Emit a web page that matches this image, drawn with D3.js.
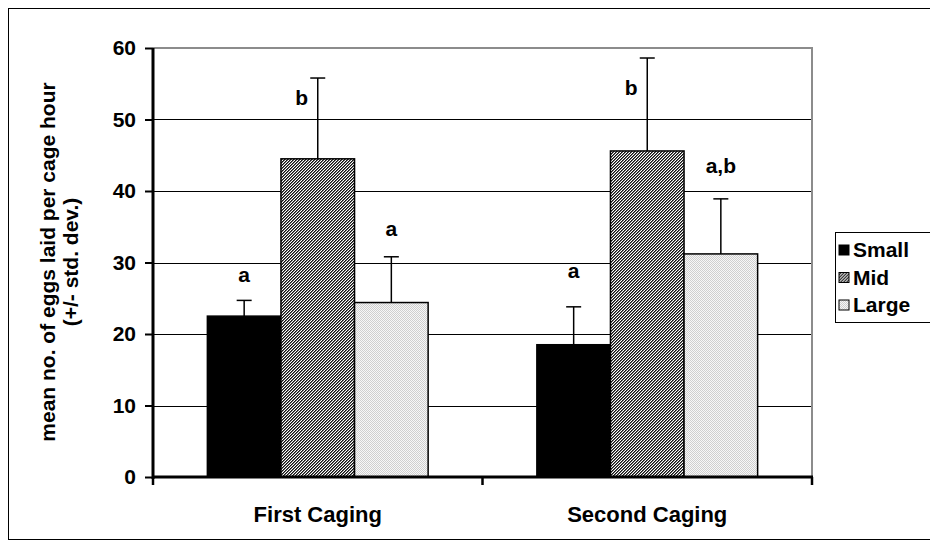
<!DOCTYPE html>
<html>
<head>
<meta charset="utf-8">
<script src="https://cdn.jsdelivr.net/npm/d3@7"></script>
<style>
  body { margin: 0; background: #fff; }
  svg { display: block; font-family: "Liberation Sans", Arial, sans-serif; font-weight: bold; }
</style>
</head>
<body>
<div id="chart"></div>
<script>
// data
const categories = ["First Caging", "Second Caging"];
const series = ["Small", "Mid", "Large"];
const meanSmall = [22.5, 18.5];
const meanMid = [44.5, 45.6];
const meanLarge = [24.4, 31.2];
const sdSmall = [2.2, 5.3];
const sdMid = [11.3, 13.0];
const sdLarge = [6.4, 7.7];
const letterSmall = ["a", "a"];
const letterMid = ["b", "b"];
const letterLarge = ["a", "a,b"];
const letterPosSmall = [28.3, 28.9];
const letterPosMid = [53.0, 54.5];
const letterPosLarge = [34.8, 43.6];
const yTicks = [0, 10, 20, 30, 40, 50, 60];

const W = 930, H = 549;
const plot = { left: 153, right: 812, top: 48, bottom: 477 };

const rows = [];
categories.forEach((c, i) => {
  rows.push({ cat: c, s: "Small", v: meanSmall[i], sd: sdSmall[i], lab: letterSmall[i], lp: letterPosSmall[i] });
  rows.push({ cat: c, s: "Mid", v: meanMid[i], sd: sdMid[i], lab: letterMid[i], lp: letterPosMid[i] });
  rows.push({ cat: c, s: "Large", v: meanLarge[i], sd: sdLarge[i], lab: letterLarge[i], lp: letterPosLarge[i] });
});

const svg = d3.select("#chart").append("svg").attr("width", W).attr("height", H);

// patterns: fine pixel hatch for Mid, light dots for Large
const defs = svg.append("defs");
const hatch = defs.append("pattern").attr("id", "hatch").attr("patternUnits", "userSpaceOnUse")
  .attr("width", 3).attr("height", 3).attr("shape-rendering", "crispEdges");
hatch.append("rect").attr("width", 3).attr("height", 3).attr("fill", "#fff");
d3.range(3).forEach(i => {
  hatch.append("rect").attr("x", i).attr("y", 2 - i).attr("width", 1).attr("height", 1).attr("fill", "#111");
  hatch.append("rect").attr("x", i).attr("y", (3 - i) % 3).attr("width", 1).attr("height", 1).attr("fill", "#6a6a6a");
});
const dots = defs.append("pattern").attr("id", "dots").attr("patternUnits", "userSpaceOnUse")
  .attr("width", 2).attr("height", 2).attr("shape-rendering", "crispEdges");
dots.append("rect").attr("width", 2).attr("height", 2).attr("fill", "#f7f7f7");
dots.append("rect").attr("width", 1).attr("height", 1).attr("fill", "#cfcfcf");
dots.append("rect").attr("x", 1).attr("y", 1).attr("width", 1).attr("height", 1).attr("fill", "#cfcfcf");

const fills = { Small: "#000", Mid: "url(#hatch)", Large: "url(#dots)" };

// chart frame
svg.append("rect").attr("x", 8.5).attr("y", 8.5).attr("width", 940).attr("height", 531)
  .attr("fill", "none").attr("stroke", "#000").attr("stroke-width", 1);

const x = d3.scaleBand().domain(categories).range([plot.left, plot.right])
  .paddingInner(0.33).paddingOuter(0.165);
const xs = d3.scaleBand().domain(series).range([0, x.bandwidth()]);
const y = d3.scaleLinear().domain([0, 60]).range([plot.bottom, plot.top]);

// gridlines
svg.append("g").selectAll("line").data(yTicks.filter(t => t > 0 && t < 60)).join("line")
  .attr("x1", plot.left).attr("x2", plot.right)
  .attr("y1", d => Math.round(y(d)) + 0.5).attr("y2", d => Math.round(y(d)) + 0.5)
  .attr("stroke", "#000").attr("stroke-width", 1);
// plot area border top/right
svg.append("path")
  .attr("d", `M${plot.left},${y(60)}H${plot.right}V${plot.bottom}`)
  .attr("fill", "none").attr("stroke", "#8c8c8c").attr("stroke-width", 2);

// bars
const bars = svg.append("g");
bars.selectAll("rect").data(rows).join("rect")
  .attr("x", d => x(d.cat) + xs(d.s))
  .attr("y", d => y(d.v))
  .attr("width", xs.bandwidth())
  .attr("height", d => y(0) - y(d.v))
  .attr("fill", d => fills[d.s])
  .attr("stroke", "#000").attr("stroke-width", 1.5);

// error bars (upper only)
const err = svg.append("g").attr("stroke", "#000").attr("stroke-width", 1.5);
err.selectAll("line.v").data(rows).join("line").attr("class", "v")
  .attr("x1", d => x(d.cat) + xs(d.s) + xs.bandwidth() / 2)
  .attr("x2", d => x(d.cat) + xs(d.s) + xs.bandwidth() / 2)
  .attr("y1", d => y(d.v)).attr("y2", d => y(d.v + d.sd));
err.selectAll("line.c").data(rows).join("line").attr("class", "c")
  .attr("x1", d => x(d.cat) + xs(d.s) + xs.bandwidth() / 2 - 7.5)
  .attr("x2", d => x(d.cat) + xs(d.s) + xs.bandwidth() / 2 + 7.5)
  .attr("y1", d => y(d.v + d.sd)).attr("y2", d => y(d.v + d.sd));

// significance letters
svg.append("g").selectAll("text").data(rows).join("text")
  .attr("x", d => x(d.cat) + xs(d.s) + xs.bandwidth() / 2 + (d.s === "Mid" ? -16 : 0))
  .attr("y", d => y(d.lp))
  .attr("dy", "0.35em")
  .attr("text-anchor", "middle")
  .attr("font-size", 21)
  .text(d => d.lab);

// y axis
const yAxis = svg.append("g").attr("transform", `translate(${plot.left},0)`)
  .call(d3.axisLeft(y).tickValues(yTicks).tickSize(8).tickPadding(9));
yAxis.attr("font-family", null);
yAxis.select(".domain").attr("stroke-width", 3).attr("d", `M0,${plot.bottom + 2}V${plot.top}`);
yAxis.selectAll(".tick line").attr("stroke-width", 2);
yAxis.selectAll(".tick text").attr("font-size", 21).attr("fill", "#000");

// x axis baseline and category ticks
const bounds = categories.map(c => x(c) - x.step() * x.paddingInner() / 2);
bounds.push(plot.right);
svg.append("line").attr("x1", plot.left - 1).attr("x2", plot.right + 1)
  .attr("y1", plot.bottom).attr("y2", plot.bottom)
  .attr("stroke", "#000").attr("stroke-width", 3);
svg.append("g").selectAll("line").data(bounds).join("line")
  .attr("x1", d => d).attr("x2", d => d)
  .attr("y1", plot.bottom).attr("y2", plot.bottom + 8)
  .attr("stroke", "#000").attr("stroke-width", 2.5);
svg.append("g").selectAll("text").data(categories).join("text")
  .attr("x", d => x(d) + x.bandwidth() / 2)
  .attr("y", 514).attr("dy", "0.35em")
  .attr("text-anchor", "middle").attr("font-size", 22)
  .text(d => d);

// y axis title
const yt = svg.append("text").attr("transform", `translate(55,262) rotate(-90)`)
  .attr("text-anchor", "middle").attr("font-size", 21);
yt.append("tspan").attr("x", 0).attr("y", 0).text("mean no. of eggs laid per cage hour");
yt.append("tspan").attr("x", 0).attr("y", 23).text("(+/- std. dev.)");

// legend
const lg = svg.append("g");
lg.append("rect").attr("x", 835.5).attr("y", 232.5).attr("width", 120).attr("height", 90)
  .attr("fill", "#fff").attr("stroke", "#000").attr("stroke-width", 1);
const items = lg.selectAll("g").data(series).join("g")
  .attr("transform", (d, i) => `translate(839,${250 + i * 27.5})`);
items.append("rect").attr("x", 0).attr("y", -5).attr("width", 10).attr("height", 10)
  .attr("fill", d => fills[d]).attr("stroke", "#000").attr("stroke-width", 1);
items.append("text").attr("x", 14).attr("y", 0).attr("dy", "0.35em")
  .attr("font-size", 21).text(d => d);
</script>
</body>
</html>
